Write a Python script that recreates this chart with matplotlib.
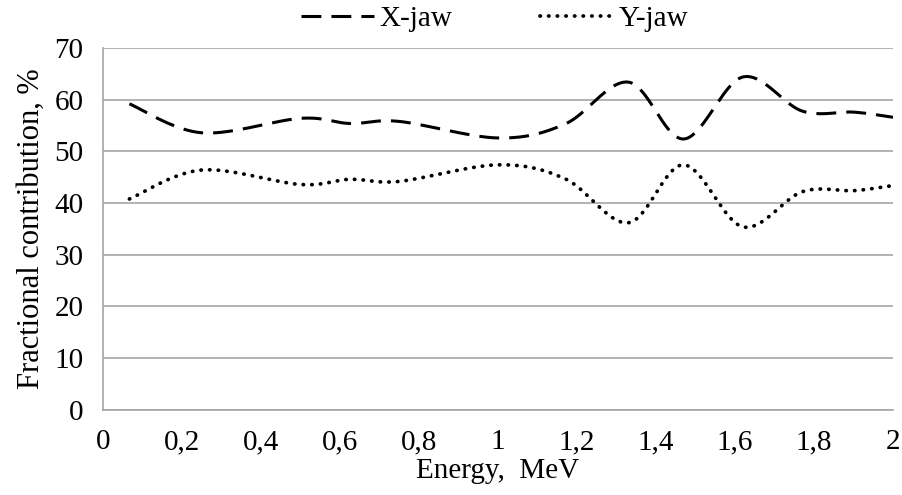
import matplotlib
matplotlib.use('Agg')
import matplotlib.pyplot as plt
import numpy as np

plt.rcParams['font.family'] = ['Liberation Serif', 'DejaVu Serif']

energy = [0.067, 0.25, 0.5, 0.625, 0.75, 1.0, 1.17, 1.33, 1.47, 1.62, 1.77, 1.9, 2.0]
x_jaw = [59.2, 53.6, 56.4, 55.4, 55.8, 52.6, 55.3, 63.4, 52.4, 64.4, 57.8, 57.6, 56.6]
y_jaw = [40.8, 46.4, 43.6, 44.6, 44.2, 47.4, 44.7, 36.2, 47.4, 35.4, 42.2, 42.4, 43.4]
xticks = [0, 0.2, 0.4, 0.6, 0.8, 1.0, 1.2, 1.4, 1.6, 1.8, 2.0]
xtick_labels = ['0', '0,2', '0,4', '0,6', '0,8', '1', '1,2', '1,4', '1,6', '1,8', '2']
yticks = [0, 10, 20, 30, 40, 50, 60, 70]


def smooth(x, y, n=40):
    # excel-like smoothed line (bezier through the points)
    p = np.column_stack([x, y]).astype(float)
    pp = np.vstack([p[0], p, p[-1]])
    t = np.linspace(0, 1, n)[:, None]
    out = []
    for i in range(len(p) - 1):
        p0, p1, p2, p3 = pp[i], pp[i + 1], pp[i + 2], pp[i + 3]
        c1 = p1 + (p2 - p0) / 6
        c2 = p2 - (p3 - p1) / 6
        seg = ((1 - t) ** 3) * p1 + 3 * ((1 - t) ** 2) * t * c1 + 3 * (1 - t) * t ** 2 * c2 + t ** 3 * p2
        out.append(seg)
    out = np.vstack(out)
    return out[:, 0], out[:, 1]


fig = plt.figure(figsize=(9.03, 4.95), dpi=100)
ax = fig.add_axes([0.114, 0.172, 0.875, 0.731])

sx, sy = smooth(energy, x_jaw)
ax.plot(sx, sy, color='black', lw=2.2, linestyle=(0, (6.5, 3.3)), label='X-jaw')
sx, sy = smooth(energy, y_jaw)
ax.plot(sx, sy, color='black', lw=2.7, linestyle=(0, (0.1, 2.2)),
        dash_capstyle='round', label='Y-jaw')

ax.set_xlim(0, 2)
ax.set_ylim(0, 70)
ax.set_xticks(xticks)
ax.set_xticklabels(xtick_labels)
ax.set_yticks(yticks)
ax.tick_params(axis='both', length=0, labelsize=21)
ax.tick_params(axis='y', pad=14)
ax.tick_params(axis='x', pad=14)
ax.grid(True, axis='y', color='#a6a6a6', lw=1.2)
ax.set_axisbelow(True)
for s in ['top', 'right']:
    ax.spines[s].set_visible(False)
for s in ['left', 'bottom']:
    ax.spines[s].set_color('#a6a6a6')
    ax.spines[s].set_linewidth(1.2)

ax.set_xlabel('Energy,  MeV', fontsize=21, labelpad=2)
ax.set_ylabel('Fractional contribution, %', fontsize=22, labelpad=6)

fig.legend(loc='center', bbox_to_anchor=(0.548, 0.962), ncol=2, frameon=False,
           fontsize=21, handlelength=2.5, handletextpad=0.2, columnspacing=3.0)

plt.savefig('out.png', dpi=100)
